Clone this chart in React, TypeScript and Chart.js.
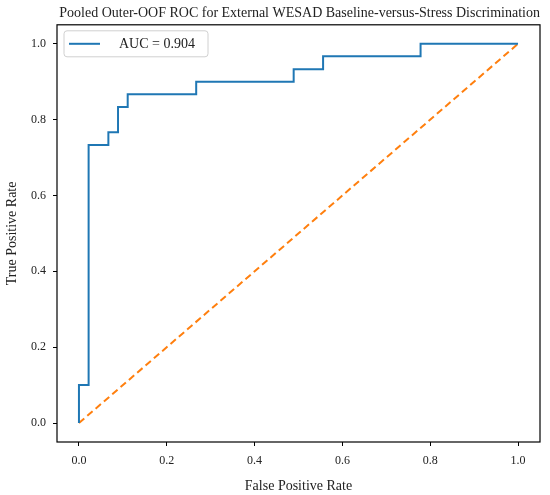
import { useEffect, useRef } from "react";
import { Chart, registerables } from "chart.js";

Chart.register(...registerables);

// pooled ROC points (45 negatives, 30 positives)
const fpr = [0, 0, 0.022, 0.022, 0.067, 0.067, 0.089, 0.089, 0.111, 0.111, 0.267, 0.267, 0.489, 0.489, 0.556, 0.556, 0.778, 0.778, 1];
const tpr = [0, 0.1, 0.1, 0.733, 0.733, 0.767, 0.767, 0.833, 0.833, 0.867, 0.867, 0.9, 0.9, 0.933, 0.933, 0.967, 0.967, 1, 1];
const chanceX = [0, 1];
const chanceY = [0, 1];
const tickValues = [0, 0.2, 0.4, 0.6, 0.8, 1.0];
const aucLabel = "AUC = 0.904";

const FONT = "'Liberation Serif', serif";

// box around the plot area + legend in the upper left corner
const frameAndLegend = {
  id: "frameAndLegend",
  afterDraw(chart) {
    const { ctx, chartArea } = chart;
    ctx.save();
    ctx.strokeStyle = "#000";
    ctx.lineWidth = 1.2;
    ctx.strokeRect(chartArea.left, chartArea.top, chartArea.right - chartArea.left, chartArea.bottom - chartArea.top);

    // legend
    const x = chartArea.left + 7;
    const y = chartArea.top + 6;
    const w = 144;
    const h = 26;
    ctx.fillStyle = "rgba(255,255,255,0.8)";
    ctx.strokeStyle = "#d0d0d0";
    ctx.lineWidth = 1;
    ctx.beginPath();
    ctx.roundRect(x, y, w, h, 3);
    ctx.fill();
    ctx.stroke();

    ctx.strokeStyle = "#1f77b4";
    ctx.lineWidth = 2;
    ctx.beginPath();
    ctx.moveTo(x + 5, y + h / 2);
    ctx.lineTo(x + 36, y + h / 2);
    ctx.stroke();

    ctx.fillStyle = "#222";
    ctx.font = `14px ${FONT}`;
    ctx.textBaseline = "middle";
    ctx.fillText(chart.data.datasets[0].label, x + 55, y + h / 2 + 1);
    ctx.restore();
  },
};

const App = () => {
  const canvasRef = useRef(null);
  const chartRef = useRef(null);

  useEffect(() => {
    document.body.style.margin = "0";
    if (chartRef.current) chartRef.current.destroy();

    chartRef.current = new Chart(canvasRef.current, {
      type: "line",
      data: {
        datasets: [
          {
            label: aucLabel,
            data: fpr.map((x, i) => ({ x, y: tpr[i] })),
            borderColor: "#1f77b4",
            borderWidth: 2,
            pointRadius: 0,
            fill: false,
            tension: 0,
          },
          {
            label: "chance",
            data: chanceX.map((x, i) => ({ x, y: chanceY[i] })),
            borderColor: "#ff7f0e",
            borderWidth: 2,
            borderDash: [7, 4],
            pointRadius: 0,
            fill: false,
          },
        ],
      },
      options: {
        animation: false,
        responsive: true,
        maintainAspectRatio: false,
        layout: { padding: { left: 0, right: 10, top: 0, bottom: 0 } },
        plugins: {
          legend: { display: false },
          tooltip: { enabled: false },
          title: {
            display: true,
            text: "Pooled Outer-OOF ROC for External WESAD Baseline-versus-Stress Discrimination",
            color: "#222",
            font: { family: FONT, size: 14, weight: "normal" },
            padding: { top: 5, bottom: 3 },
            align: "end",
          },
        },
        scales: {
          x: {
            type: "linear",
            min: -0.05,
            max: 1.05,
            afterBuildTicks: (scale) => {
              scale.ticks = tickValues.map((value) => ({ value }));
            },
            afterFit: (scale) => {
              scale.height = 53;
            },
            ticks: {
              color: "#222",
              font: { family: FONT, size: 12 },
              padding: 8,
              maxRotation: 0,
              callback: (v) => Number(v).toFixed(1),
            },
            grid: { drawOnChartArea: false, drawTicks: true, tickLength: 4, color: "#000" },
            border: { display: false },
            title: {
              display: true,
              text: "False Positive Rate",
              color: "#222",
              font: { family: FONT, size: 14 },
              padding: { top: 1, bottom: 0 },
            },
          },
          y: {
            type: "linear",
            min: -0.05,
            max: 1.05,
            afterBuildTicks: (scale) => {
              scale.ticks = tickValues.map((value) => ({ value }));
            },
            afterFit: (scale) => {
              scale.width = 57;
            },
            ticks: {
              color: "#222",
              font: { family: FONT, size: 12 },
              padding: 7,
              callback: (v) => Number(v).toFixed(1),
            },
            grid: { drawOnChartArea: false, drawTicks: true, tickLength: 4, color: "#000" },
            border: { display: false },
            title: {
              display: true,
              text: "True Positive Rate",
              color: "#222",
              font: { family: FONT, size: 14 },
              padding: { top: 4, bottom: 4 },
            },
          },
        },
      },
      plugins: [frameAndLegend],
    });

    return () => {
      if (chartRef.current) {
        chartRef.current.destroy();
        chartRef.current = null;
      }
    };
  }, []);

  return (
    <div style={{ width: 550, height: 495, position: "relative" }}>
      <canvas ref={canvasRef} />
    </div>
  );
};

export default App;
